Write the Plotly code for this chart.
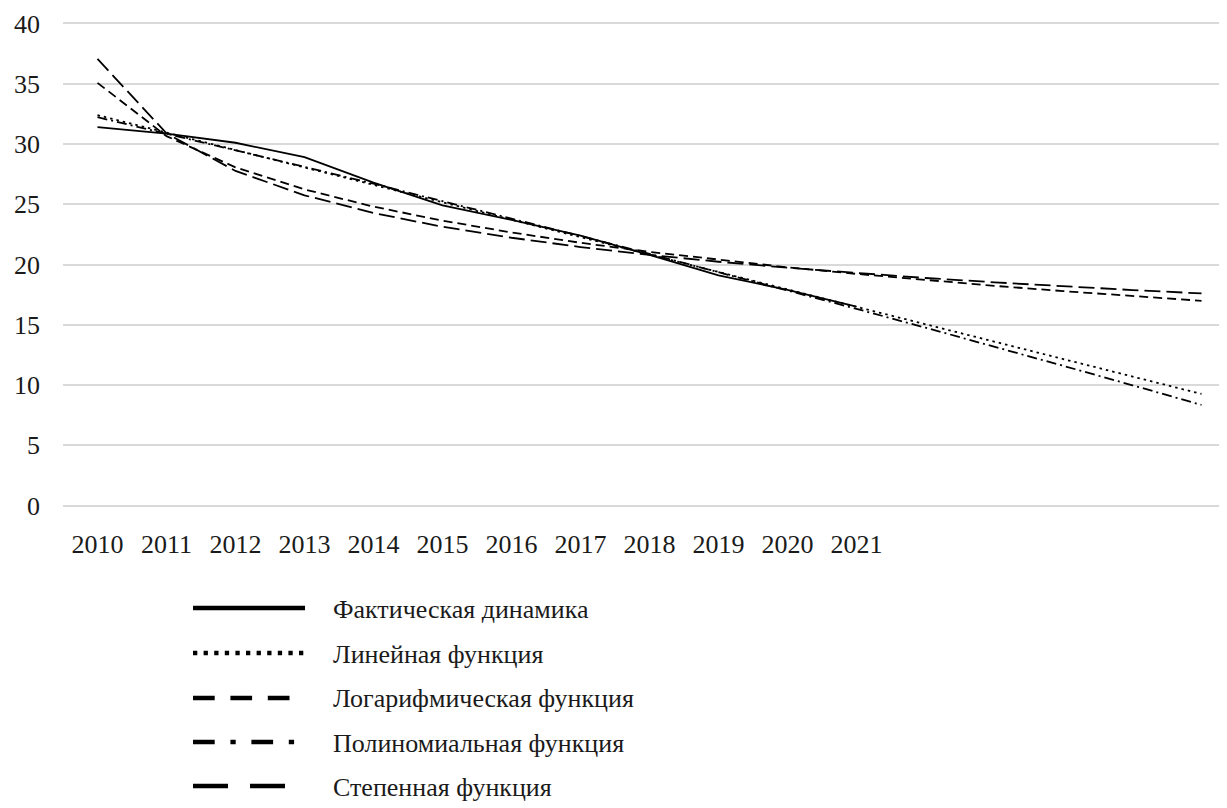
import plotly.graph_objects as go

# ---- data ----
years = ["2010", "2011", "2012", "2013", "2014", "2015",
         "2016", "2017", "2018", "2019", "2020", "2021"]

actual = [31.4, 30.85, 30.1, 28.9, 26.8, 24.9, 23.7, 22.4, 20.8, 19.1, 17.9, 16.5]

# trend lines, extended 5 periods forward (2010 ... 2026)
linear = [32.39, 30.94, 29.50, 28.05, 26.61, 25.16, 23.72, 22.27, 20.83,
          19.38, 17.93, 16.49, 15.04, 13.60, 12.15, 10.71, 9.26]
logarithmic = [35.07, 30.65, 28.06, 26.23, 24.80, 23.64, 22.66, 21.80, 21.05,
               20.38, 19.77, 19.22, 18.71, 18.23, 17.79, 17.38, 16.99]
polynomial = [32.22, 30.86, 29.50, 28.10, 26.70, 25.27, 23.83, 22.36, 20.88,
              19.38, 17.85, 16.32, 14.76, 13.19, 11.59, 9.98, 8.35]
power = [37.05, 30.88, 27.76, 25.74, 24.27, 23.13, 22.22, 21.45, 20.80,
         20.23, 19.73, 19.28, 18.88, 18.52, 18.18, 17.88, 17.60]

series_names = ["Фактическая динамика", "Линейная функция",
                "Логарифмическая функция", "Полиномиальная функция",
                "Степенная функция"]

y_ticks = [0, 5, 10, 15, 20, 25, 30, 35, 40]

# ---- styling ----
FONT = "Liberation Serif"
FS = 26
INK = "#1a1a1a"
# page has an 8px body margin, so the figure is drawn 8px in from the corner
W, H = 1219, 800
ML, MR, MT, MB = 55, 0, 13, 300
CAT_PX = 69

plot_dash = ["solid", "2.5px,4px", "9px,5px", "10px,4px,2px,4px", "16px,6px"]
legend_dash = ["solid", "4.3px,6.3px", "21.7px,15.7px",
               "21.7px,15.7px,5.3px,15.7px", "35px,22px"]
all_series = [actual, linear, logarithmic, polynomial, power]

fig = go.Figure()
for name, vals, dash in zip(series_names, all_series, plot_dash):
    fig.add_trace(go.Scatter(
        x=list(range(len(vals))), y=vals, mode="lines", name=name,
        line=dict(color="black", width=1.8, dash=dash),
        showlegend=False, hoverinfo="skip"))

# ---- custom legend (long line samples like the reference) ----
pw = W - ML - MR
ph = H - MT - MB


def px_x(px):
    return (px - ML) / pw


def px_y(py):
    return (H - MB - py) / ph


legend_rows = [601, 646, 691, 735, 779]
for name, dash, row in zip(series_names, legend_dash, legend_rows):
    fig.add_shape(type="line", xref="paper", yref="paper",
                  x0=px_x(185), x1=px_x(297), y0=px_y(row - 1), y1=px_y(row - 1),
                  line=dict(color="black", width=4.5, dash=dash))
    fig.add_annotation(xref="paper", yref="paper", x=px_x(323), y=px_y(row),
                       text=name, showarrow=False, xanchor="left",
                       yanchor="middle",
                       font=dict(family=FONT, size=FS, color=INK))

fig.update_layout(
    width=W, height=H, autosize=False,
    margin=dict(l=ML, r=MR, t=MT, b=MB, pad=0),
    paper_bgcolor="white", plot_bgcolor="white",
    font=dict(family=FONT, size=FS, color=INK),
    showlegend=False,
)
fig.update_xaxes(
    range=[-0.5, pw / CAT_PX - 0.5],
    tickmode="array", tickvals=list(range(len(years))), ticktext=years,
    showgrid=False, zeroline=False, showline=False, ticks="",
    ticklabelstandoff=18,
    tickfont=dict(family=FONT, size=FS, color=INK),
)
fig.update_yaxes(
    range=[-0.2, 40.2], tickmode="array", tickvals=y_ticks,
    showgrid=True, gridcolor="#d9d9d9", gridwidth=1.5,
    zeroline=False, showline=False, ticks="",
    ticklabelstandoff=22,
    tickfont=dict(family=FONT, size=FS, color=INK),
)

fig.write_html("out.html")
